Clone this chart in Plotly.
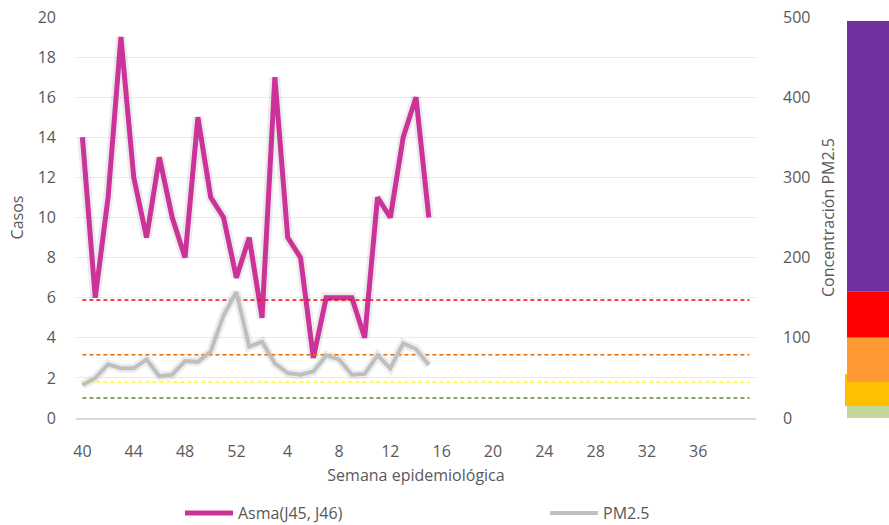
import plotly.graph_objects as go

# ---- data ----
weeks = list(range(40, 53)) + list(range(1, 41))          # 53 epidemiological weeks
tick_idx = list(range(0, 49, 4))
tick_labels = [str(weeks[i]) for i in tick_idx]

asma = [14, 6, 11, 19, 12, 9, 13, 10, 8, 15, 11, 10, 7, 9, 5, 17, 9, 8, 3, 6, 6, 6, 4, 11, 10, 14, 16, 10]
pm25 = [41, 50, 67, 62, 62, 73, 52, 54, 71, 70, 83, 128, 157, 89, 95, 68, 56, 54, 58, 78, 73, 54, 55, 78, 62, 93, 86, 66]

# PM2.5 thresholds (dashed reference lines)
thr_names = ["Extremadamente mala", "Muy mala", "Mala", "Aceptable"]
thr_values = [147, 79, 45, 25]
thr_colors = ["#FF0000", "#E46C0A", "#FFFF00", "#5B8A32"]

# colour scale bar on the right (PM2.5 bands)
band_low = [158, 100, 15, 45, 0]
band_high = [495, 158, 55, 100, 15]
band_colors = ["#7030A0", "#FF0000", "#FFC000", "#FF9933", "#C4D79B"]
band_left = [847, 847, 845, 847, 847]

x_idx = list(range(len(weeks)))
FONT = "Open Sans"
GRAY = "#595959"

fig = go.Figure()

# shadows
fig.add_trace(go.Scatter(x=x_idx[:len(pm25)], y=pm25, yaxis="y2", mode="lines",
                         line=dict(color="rgba(0,0,0,0.07)", width=9),
                         showlegend=False, hoverinfo="skip"))
fig.add_trace(go.Scatter(x=x_idx[:len(asma)], y=asma, mode="lines",
                         line=dict(color="rgba(0,0,0,0.08)", width=10),
                         showlegend=False, hoverinfo="skip"))

# threshold lines
for n, v, c in zip(thr_names, thr_values, thr_colors):
    fig.add_trace(go.Scatter(x=x_idx, y=[v] * len(x_idx), yaxis="y2", mode="lines",
                             line=dict(color=c, width=1.5, dash="4px,3px"),
                             name=n, showlegend=False))

fig.add_trace(go.Scatter(x=x_idx[:len(pm25)], y=pm25, yaxis="y2", mode="lines",
                         name="PM2.5", line=dict(color="#BFBFBF", width=4),
                         legend="legend2"))
fig.add_trace(go.Scatter(x=x_idx[:len(asma)], y=asma, mode="lines",
                         name="Asma(J45, J46)", line=dict(color="#CC3399", width=5),
                         legend="legend"))

# body margin is removed by post_script, so window pixels == figure pixels
FW, FH = 889, 525
L, R, T, B = 76, 756, 17, 418
W = R - L
for lo, hi, c, lx in zip(band_low, band_high, band_colors, band_left):
    fig.add_shape(type="rect", xref="paper", yref="y2",
                  x0=(lx - L) / W, x1=(FW - L) / W, y0=lo, y1=hi,
                  fillcolor=c, line=dict(width=0), layer="above")

leg_common = dict(orientation="h", xanchor="left", y=(B - 513) / (B - T), yanchor="middle",
                  itemwidth=48, font=dict(size=16, color=GRAY), bgcolor="rgba(0,0,0,0)")

fig.update_layout(
    width=FW, height=FH,
    margin=dict(l=L, r=FW - R, t=T, b=FH - B, autoexpand=False),
    paper_bgcolor="white", plot_bgcolor="white",
    font=dict(family=FONT, size=16, color=GRAY),
    xaxis=dict(range=[-0.5, len(weeks) - 0.5], tickmode="array",
               tickvals=tick_idx, ticktext=tick_labels, automargin=False,
               showgrid=False, zeroline=False, showline=True,
               linecolor="#D9D9D9", linewidth=1.5,
               ticks="", ticklabelstandoff=18, ticklabeloverflow="allow",
               title=dict(text="Semana epidemiológica", font=dict(size=16, color=GRAY),
                          standoff=9)),
    yaxis=dict(range=[0, 20], dtick=2, showgrid=True, gridcolor="#EBEBEB",
               gridwidth=1.2, zeroline=False, showline=False, ticks="",
               ticklabelstandoff=19, automargin=False, ticklabeloverflow="allow",
               title=dict(text="Casos", font=dict(size=16, color=GRAY), standoff=10)),
    yaxis2=dict(range=[0, 500], dtick=100, overlaying="y", side="right",
                showgrid=False, zeroline=False, showline=False, ticks="",
                ticklabelstandoff=26, automargin=False, ticklabeloverflow="allow",
                title=dict(text="Concentración PM2.5", font=dict(size=16, color=GRAY),
                           standoff=13)),
    legend=dict(x=(180 - L) / W, **leg_common),
    legend2=dict(x=(545 - L) / W, **leg_common),
    showlegend=True,
)

fig.write_html("out.html", config={"displayModeBar": False},
               post_script="document.body.style.margin='0';document.body.style.overflow='hidden';")
